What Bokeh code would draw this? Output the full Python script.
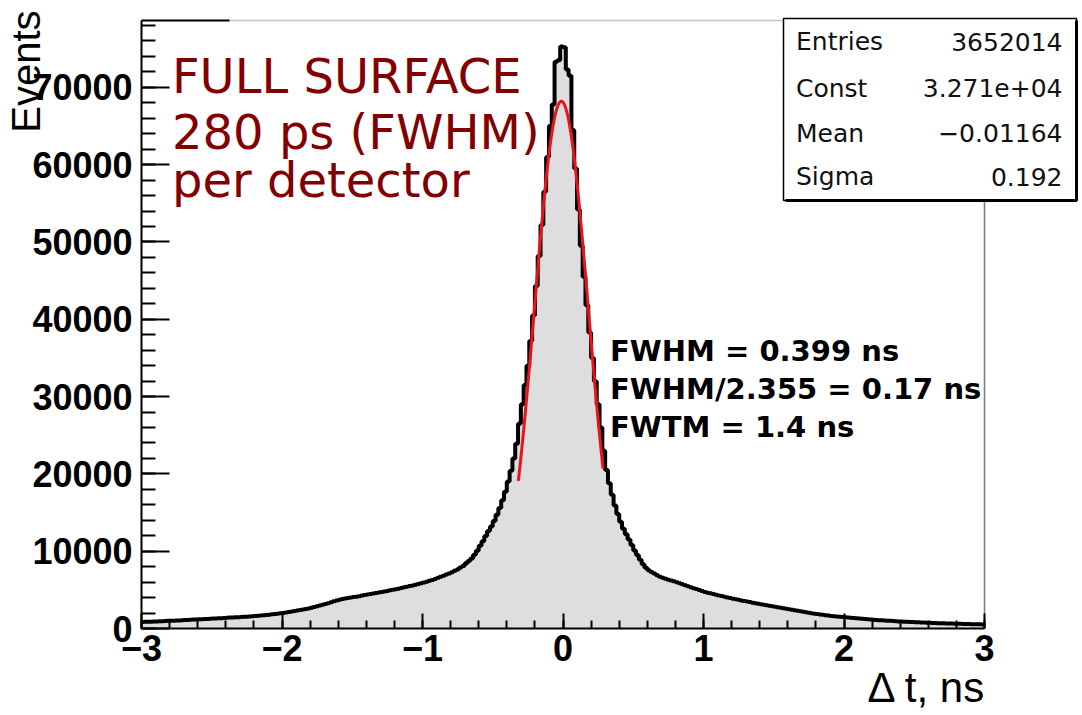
import numpy as np
from bokeh.plotting import figure
from bokeh.models import Range1d, SingleIntervalTicker, Label
from bokeh.embed import file_html
from bokeh.resources import INLINE

# ---------------- data ----------------
x_lo, x_hi = -3.0, 3.0
bin_width = 0.02
counts = [
    # -3.00 .. -2.00
    855, 865, 873, 888, 902, 918, 930, 950, 972, 988,
    1002, 1018, 1030, 1050, 1070, 1090, 1110, 1130, 1150, 1170,
    1192, 1208, 1220, 1240, 1268, 1292, 1300, 1320, 1340, 1360,
    1390, 1410, 1420, 1440, 1468, 1492, 1510, 1530, 1555, 1585,
    1615, 1645, 1685, 1715, 1740, 1780, 1828, 1872, 1918, 1962,
    # -2.00 .. -1.00
    2010, 2070, 2130, 2190, 2255, 2325, 2385, 2455, 2520, 2600,
    2680, 2780, 2870, 2970, 3080, 3180, 3270, 3390, 3530, 3630,
    3710, 3810, 3880, 3960, 4010, 4070, 4115, 4185, 4260, 4340,
    4390, 4450, 4525, 4595, 4665, 4735, 4795, 4865, 4940, 5020,
    5085, 5155, 5240, 5320, 5405, 5495, 5575, 5665, 5750, 5850,
    # -1.00 .. 0.00
    5940, 6060, 6170, 6290, 6410, 6550, 6690, 6830, 6970, 7130,
    7290, 7470, 7620, 7880, 8100, 8450, 8720, 9050, 9550, 10050,
    10700, 11300, 11950, 12600, 13200, 13900, 14700, 15600, 16600, 17700,
    19000, 20400, 22000, 23900, 26500, 29000, 31500, 34000, 37200, 40500,
    44300, 48200, 52200, 56500, 61000, 65000, 67800, 73300, 73500, 75300,
    # 0.00 .. 1.00
    75200, 72300, 71500, 64500, 59500, 54200, 49500, 45500, 41800, 38300,
    35000, 32000, 29000, 26000, 23000, 20500, 18800, 17300, 15900, 14800,
    13800, 12900, 12200, 11500, 10800, 10100, 9500, 8900, 8300, 7850,
    7550, 7300, 7100, 6900, 6700, 6550, 6420, 6300, 6200, 6100,
    5980, 5860, 5730, 5600, 5470, 5350, 5220, 5100, 4970, 4850,
    # 1.00 .. 2.00
    4720, 4640, 4545, 4455, 4365, 4275, 4190, 4110, 4020, 3940,
    3860, 3780, 3705, 3635, 3555, 3485, 3415, 3345, 3275, 3205,
    3135, 3065, 3000, 2940, 2875, 2805, 2740, 2680, 2610, 2550,
    2480, 2420, 2350, 2290, 2230, 2170, 2100, 2040, 1980, 1920,
    1865, 1815, 1765, 1715, 1670, 1630, 1590, 1550, 1518, 1482,
    # 2.00 .. 3.00
    1447, 1413, 1387, 1353, 1315, 1285, 1255, 1225, 1195, 1165,
    1133, 1107, 1082, 1058, 1030, 1010, 992, 968, 940, 920,
    900, 880, 858, 842, 828, 812, 798, 782, 768, 752,
    738, 722, 706, 694, 686, 674, 656, 644, 635, 625,
    615, 605, 595, 585, 575, 565, 555, 545, 535, 525,
]
y_top = 78650

# fit (Gaussian) parameters
fit_amp = 68200
fit_mean = -0.01164
fit_sigma = 0.192
fit_range = (-0.318, 0.285)

stats_names = ["Entries", "Const", "Mean", "Sigma"]
stats_values = ["3652014", "3.271e+04", "\u22120.01164", "0.192"]

fit_lines = ["FWHM = 0.399 ns", "FWHM/2.355 = 0.17 ns", "FWTM = 1.4 ns"]
red_lines = ["FULL SURFACE", "280 ps (FWHM)", "per detector"]
x_ticks = [-3, -2, -1, 0, 1, 2, 3]
x_tick_text = ["\u22123", "\u22122", "\u22121", "0", "1", "2", "3"]

# ---------------- layout (pixels) ----------------
W, H = 1082, 715
FL, FR, FT, FB = 141, 984, 20, 628   # pixel box of the histogram frame
ppx = (FR - FL) / (x_hi - x_lo)       # pixels per x unit
ppy = (FB - FT) / y_top               # pixels per y unit


def sx(px):
    return x_lo + (px - FL) / ppx


def sy(py):
    return (FB - py) / ppy


p = figure(width=W, height=H, output_backend="svg", toolbar_location=None,
           x_range=Range1d(sx(0), sx(W)), y_range=Range1d(sy(H), sy(0)),
           min_border=0, min_border_left=0, min_border_right=0,
           min_border_top=0, min_border_bottom=0)
p.background_fill_color = "white"
p.border_fill_color = "white"
p.outline_line_color = None
p.xgrid.visible = False
p.ygrid.visible = False

# frame lines (top light, right grey)
p.line(x=[x_lo, x_hi], y=[y_top, y_top], line_color="#c4c4c4", line_width=1.5)
p.line(x=[x_hi, x_hi], y=[0, y_top], line_color="#7a7a7a", line_width=1.5)
p.line(x=[x_lo, sx(229)], y=[y_top, y_top], line_color="black", line_width=2)

# histogram
n = len(counts)
edges = [x_lo + i * bin_width for i in range(n + 1)]
vals = counts + [counts[-1]]
p.varea_step(x=edges, y1=[0] * (n + 1), y2=vals, step_mode="after",
             fill_color="#dedede")
p.step(x=edges, y=vals, mode="after", line_color="black", line_width=4)

# fit curve
fx = np.linspace(fit_range[0], fit_range[1], 200)
fy = fit_amp * np.exp(-0.5 * ((fx - fit_mean) / fit_sigma) ** 2)
p.line(fx, fy, line_color="#e8141a", line_width=3)

# axes (kept in their side panels, pinned to the histogram frame)
for ax in (p.xaxis[0], p.yaxis[0]):
    ax.axis_line_color = "black"
    ax.axis_line_width = 2
    ax.major_tick_line_color = "black"
    ax.minor_tick_line_color = "black"
    ax.major_tick_line_width = 2
    ax.minor_tick_line_width = 2
    ax.major_tick_out = 0
    ax.minor_tick_out = 0
    ax.major_label_text_font = "Liberation Sans"
    ax.major_label_text_font_style = "bold"
    ax.major_label_text_font_size = "36px"
    ax.major_label_text_color = "black"

p.xaxis.fixed_location = 0
p.xaxis.bounds = (x_lo, x_hi)
p.xaxis.ticker = SingleIntervalTicker(interval=1, num_minor_ticks=5)
p.xaxis.major_tick_in = 15
p.xaxis.minor_tick_in = 8
p.xaxis.major_label_standoff = 6
p.xaxis.major_label_overrides = {t: s for t, s in zip(x_ticks, x_tick_text)}

p.yaxis.fixed_location = x_lo
p.yaxis.bounds = (0, y_top)
p.yaxis.ticker = SingleIntervalTicker(interval=10000, num_minor_ticks=5)
p.yaxis.major_tick_in = 28
p.yaxis.minor_tick_in = 14
p.yaxis.major_label_standoff = 9
p.yaxis.major_label_orientation = "horizontal"

# stats box
bx0, bx1, by0, by1 = 783, 1076, 18, 200
p.quad(left=[sx(bx0)], right=[sx(bx1)], bottom=[sy(by1)], top=[sy(by0)],
       fill_color="white", line_color="black", line_width=1.5)
p.line(x=[sx(bx0 + 2), sx(bx1), sx(bx1)], y=[sy(by1), sy(by1), sy(by0 + 2)],
       line_color="black", line_width=3)

# axis titles
p.add_layout(Label(x=sx(25), y=sy(10), text="Events", angle=np.pi / 2,
                   text_align="right", text_baseline="alphabetic",
                   text_font="Liberation Sans", text_font_size="40px",
                   text_color="black"))
p.add_layout(Label(x=sx(986), y=sy(687), text="\u0394 t, ns",
                   text_align="right", text_baseline="alphabetic",
                   text_font="Liberation Sans", text_font_size="42px",
                   text_color="black"))

# red annotation
for txt, py in zip(red_lines, [75, 131.5, 179.5]):
    p.add_layout(Label(x=sx(171.5), y=sy(py), text=txt,
                       text_align="left", text_baseline="alphabetic",
                       text_font="DejaVu Sans", text_font_size="48px",
                       text_color="#820000"))

# fit result annotation
for txt, py in zip(fit_lines, [350, 388.5, 426]):
    p.add_layout(Label(x=sx(609.5), y=sy(py), text=txt,
                       text_align="left", text_baseline="alphabetic",
                       text_font="DejaVu Sans", text_font_style="bold",
                       text_font_size="29px", text_color="black"))

# stats text
for name, val, py in zip(stats_names, stats_values, [41, 87.7, 132.7, 176]):
    p.add_layout(Label(x=sx(795.5), y=sy(py), text=name,
                       text_align="left", text_baseline="alphabetic",
                       text_font="DejaVu Sans", text_font_size="25px",
                       text_color="#111111"))
    p.add_layout(Label(x=sx(1062), y=sy(py), text=val,
                       text_align="right", text_baseline="alphabetic",
                       text_font="DejaVu Sans", text_font_size="25px",
                       text_color="#111111"))

open("out.html", "w").write(file_html(p, INLINE))
